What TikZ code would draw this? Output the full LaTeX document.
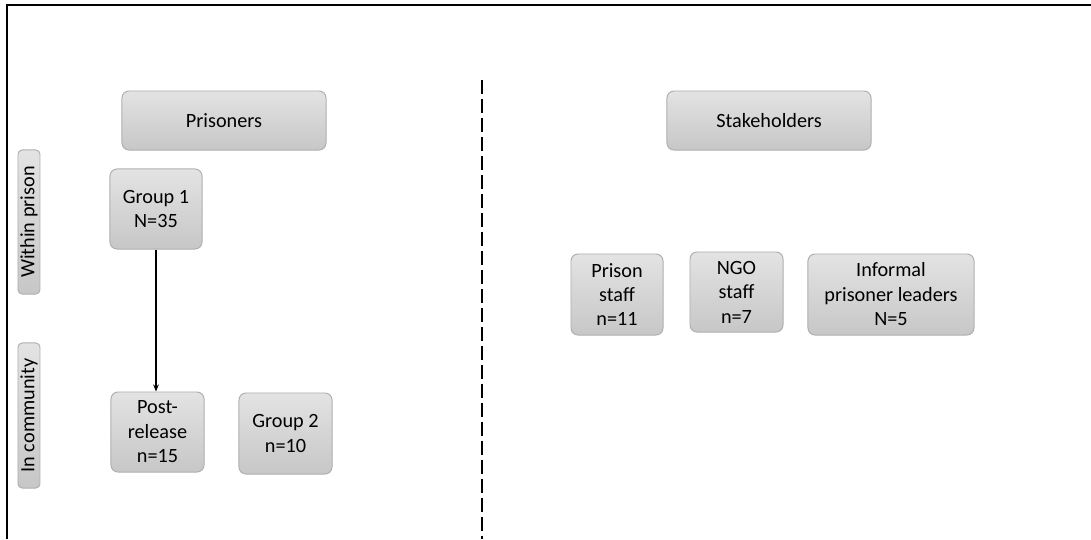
\documentclass[tikz,border=0pt]{standalone}
\usepackage{fontspec}
\setmainfont{Carlito}
\usepackage{tikz}
\usetikzlibrary{arrows.meta, positioning, shadings}
\definecolor{boxedge}{RGB}{175,175,175}

\begin{document}
\begin{tikzpicture}[x=0.025cm, y=-0.025cm,
    groupbox/.style={rectangle,draw=boxedge,top color=black!11,bottom color=black!22,
        rounded corners=5pt,line width=0.7pt,align=center,inner sep=0pt,
        font=\fontsize{14.4}{17.4}\selectfont},
    sidebox/.style={groupbox,rotate=90,minimum height=0.55cm,rounded corners=3pt}]
    \useasboundingbox (0,0) rectangle (1091,539);

    % frame and divider
    \draw[line width=1.4pt] (7,539) -- (7,5) -- (1091,5);
    \draw[line width=1.2pt,dash pattern=on 10pt off 3.5pt] (482,80) -- (482,539);

    % headings
    \node[groupbox,minimum width=5.1cm,minimum height=1.475cm] (prisoners) at (224,120.5) {Prisoners};
    \node[groupbox,minimum width=5.1cm,minimum height=1.475cm] (stakeholders) at (769,120.5) {Stakeholders};

    % side labels
    \node[sidebox,minimum width=3.6cm] (within) at (29,222) {Within prison};
    \node[sidebox,minimum width=3.625cm] (community) at (29,415.5) {In community};

    % prisoners
    \node[groupbox,minimum width=2.3cm,minimum height=2cm] (group1) at (156,209) {Group 1\\N=35};
    \node[groupbox,minimum width=2.325cm,minimum height=2cm] (postrel) at (157.5,432) {Post-\\release\\n=15};
    \node[groupbox,minimum width=2.325cm,minimum height=2.025cm] (group2) at (285.5,433.5) {Group 2\\n=10};

    % stakeholders
    \node[groupbox,minimum width=2.3cm,minimum height=2.025cm] (prisonstaff) at (617,294.5) {Prison\\staff\\n=11};
    \node[groupbox,minimum width=2.325cm,minimum height=2cm] (ngostaff) at (736.5,292) {NGO\\staff\\n=7};
    \node[groupbox,minimum width=4.15cm,minimum height=2.025cm] (informal) at (891,294.5) {Informal\\prisoner leaders\\N=5};

    % follow-up
    \draw[-{Stealth[length=5pt,width=4pt]},line width=0.9pt] (group1.south) -- (postrel.north -| group1.south);
\end{tikzpicture}
\end{document}
